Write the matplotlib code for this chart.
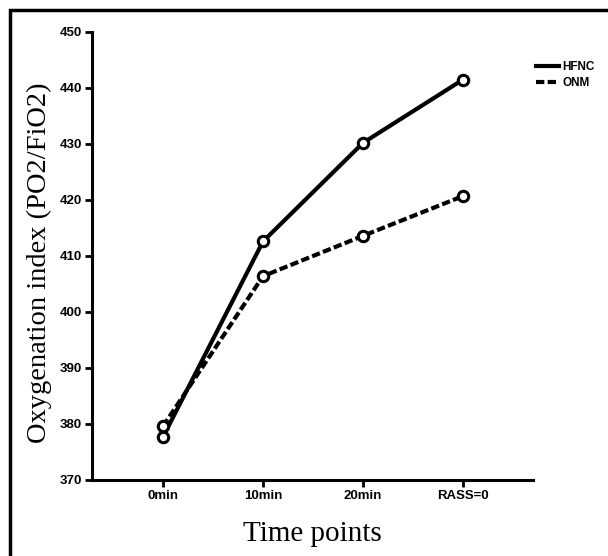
#!/usr/bin/env python3
"""Oxygenation index over time points, HFNC vs ONM."""

import matplotlib

matplotlib.use("Agg")
import matplotlib.pyplot as plt
from matplotlib.patches import Rectangle

# data
time_points = ["0min", "10min", "20min", "RASS=0"]
hfnc = [377.7, 412.6, 430.2, 441.5]
onm = [379.6, 406.4, 413.6, 420.7]
y_ticks = [370, 380, 390, 400, 410, 420, 430, 440, 450]

SANS = "Liberation Sans"
SERIF = "Liberation Serif"
DASH = (2.0, 0.8)

fig = plt.figure(figsize=(6.08, 5.56), dpi=100)
ax = fig.add_axes([92 / 608, 76 / 556, 441 / 608, 448 / 556])

x = list(range(len(time_points)))
marker_kw = dict(marker="o", markersize=7.5, markerfacecolor="white",
                 markeredgecolor="black", markeredgewidth=2.2)
ax.plot(x, hfnc, "-", color="black", lw=3.0, label="HFNC", **marker_kw)
ax.plot(x, onm, color="black", lw=3.0, dashes=DASH, label="ONM", **marker_kw)

ax.set_xlim(-0.71, 3.7)
ax.set_ylim(370, 450)
ax.set_xticks(x)
ax.set_xticklabels(time_points)
ax.set_yticks(y_ticks)
for lab in ax.get_xticklabels() + ax.get_yticklabels():
    lab.set_fontfamily(SANS)
    lab.set_fontweight("bold")
    lab.set_fontsize(9.5)
ax.tick_params(axis="both", direction="out", length=5, width=2, pad=2)

for side in ("top", "right"):
    ax.spines[side].set_visible(False)
for side in ("left", "bottom"):
    ax.spines[side].set_linewidth(2.2)

ax.set_xlabel("Time points", fontfamily=SERIF, fontsize=21, labelpad=14)
ax.set_ylabel("Oxygenation index (PO2/FiO2)", fontfamily=SERIF, fontsize=20.5, labelpad=6)
ax.yaxis.label.set_y(0.485)

# legend without markers, placed to the right of the axes
ax.legend(handles=[
    plt.Line2D([], [], color="black", lw=3.0, label="HFNC"),
    plt.Line2D([], [], color="black", lw=3.0, dashes=DASH, label="ONM"),
], loc="upper left", bbox_to_anchor=(0.997, 0.945), frameon=False,
    handlelength=1.9, handletextpad=0.3, labelspacing=0.3, borderaxespad=0,
    prop={"family": SANS, "weight": "bold", "size": 8.5})

# outer frame (left and top edges visible)
fig.add_artist(Rectangle((10 / 608, -0.1), 1.2, (546 / 556) + 0.1,
                         transform=fig.transFigure, fill=False,
                         edgecolor="black", lw=2.5))

fig.savefig("out.png", dpi=100)
